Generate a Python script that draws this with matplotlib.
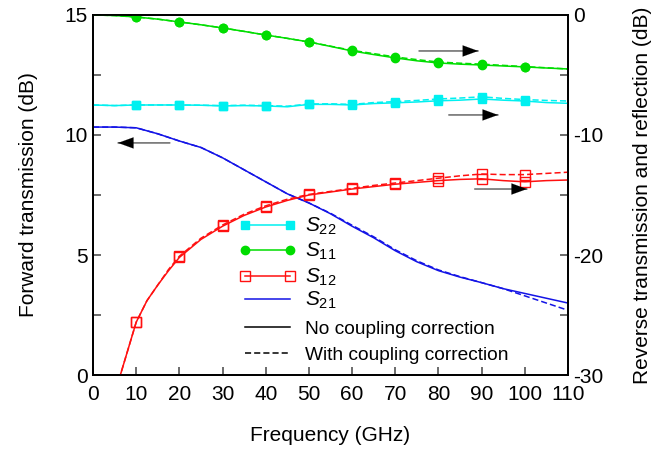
import matplotlib
matplotlib.use("Agg")
import matplotlib.pyplot as plt
import numpy as np

plt.rcParams['font.family'] = ['Liberation Sans', 'DejaVu Sans']
plt.rcParams['mathtext.fontset'] = 'custom'
plt.rcParams['mathtext.rm'] = 'Liberation Sans'
plt.rcParams['mathtext.it'] = 'Liberation Sans:italic'

# ---- measured S-parameters -------------------------------------------
# S21: forward transmission (left axis, dB)
f21 = [0, 5, 10, 15, 20, 25, 30, 35, 40, 45, 50, 55, 60, 65, 70, 75, 80,
       85, 90, 95, 100, 105, 110]
s21_nc = [10.33, 10.33, 10.3, 10.05, 9.75, 9.48, 9.05, 8.55, 8.05, 7.55,
          7.17, 6.72, 6.2, 5.72, 5.18, 4.72, 4.35, 4.08, 3.85, 3.6, 3.4,
          3.2, 3.0]
s21_wc = [10.33, 10.33, 10.3, 10.05, 9.75, 9.48, 9.05, 8.55, 8.05, 7.55,
          7.17, 6.74, 6.24, 5.76, 5.22, 4.76, 4.38, 4.1, 3.85, 3.6, 3.3,
          3.0, 2.7]

# S11, S22: reflection (right axis, dB)
fr = [0, 5, 10, 15, 20, 25, 30, 35, 40, 45, 50, 55, 60, 65, 70, 75, 80,
      85, 90, 95, 100, 105, 110]
s11_nc = [0.0, -0.05, -0.17, -0.35, -0.58, -0.82, -1.08, -1.37, -1.67,
          -1.95, -2.25, -2.62, -3.0, -3.3, -3.58, -3.82, -4.0, -4.1, -4.17,
          -4.25, -4.33, -4.42, -4.5]
s11_wc = [0.0, -0.05, -0.17, -0.35, -0.58, -0.82, -1.08, -1.37, -1.67,
          -1.95, -2.25, -2.6, -2.95, -3.22, -3.5, -3.72, -3.92, -4.02, -4.1,
          -4.2, -4.3, -4.4, -4.5]
s22_nc = [-7.5, -7.55, -7.5, -7.5, -7.5, -7.52, -7.58, -7.55, -7.58, -7.65,
          -7.45, -7.45, -7.5, -7.38, -7.32, -7.25, -7.15, -7.1, -7.0, -7.1,
          -7.17, -7.3, -7.36]
s22_wc = [-7.5, -7.55, -7.5, -7.5, -7.5, -7.52, -7.55, -7.52, -7.55, -7.6,
          -7.42, -7.4, -7.45, -7.3, -7.22, -7.12, -7.0, -6.92, -6.82, -6.95,
          -7.05, -7.12, -7.17]

# S12: reverse transmission (right axis, dB)
f12 = [6, 7, 8, 9, 10, 12.5, 15, 17.5, 20, 25, 30, 35, 40, 45, 50, 55, 60,
       65, 70, 75, 80, 85, 90, 95, 100, 105, 110]
s12_nc = [-30.4, -29.2, -28.0, -26.8, -25.6, -23.8, -22.5, -21.3, -20.2,
          -18.7, -17.6, -16.7, -16.0, -15.45, -15.0, -14.75, -14.5, -14.3,
          -14.1, -13.95, -13.8, -13.7, -13.65, -13.8, -13.9, -13.8, -13.75]
s12_wc = [-30.4, -29.2, -28.0, -26.8, -25.6, -23.8, -22.5, -21.2, -20.1,
          -18.6, -17.5, -16.6, -15.9, -15.35, -14.95, -14.7, -14.45, -14.2,
          -14.0, -13.8, -13.6, -13.4, -13.25, -13.3, -13.3, -13.2, -13.1]

x_ticks = list(range(0, 111, 10))
left_ticks = [0, 5, 10, 15]
right_ticks = [-30, -20, -10, 0]

C22, C11, C12, C21 = '#00F0F0', '#00DD00', '#FF1010', '#1414E6'
DASH = (0, (4, 2))

fig = plt.figure(figsize=(6.69, 4.53), dpi=100)
ax = fig.add_axes([0.139, 0.172, 0.71, 0.795])
ax2 = ax.twinx()

lw = 1.1

def marks_at_tens(freqs):
    return [i for i, v in enumerate(freqs) if v % 10 == 0 and 10 <= v <= 100]

# forward transmission
ax.plot(f21, s21_nc, color=C21, lw=lw)
ax.plot(f21, s21_wc, color=C21, lw=lw, ls=DASH)

# reflections and reverse transmission
for ls, s11, s22, s12 in [('-', s11_nc, s22_nc, s12_nc),
                          (DASH, s11_wc, s22_wc, s12_wc)]:
    ax2.plot(fr, s11, color=C11, lw=lw, ls=ls, marker='o', ms=6,
             markevery=marks_at_tens(fr), mec=C11, mfc=C11)
    ax2.plot(fr, s22, color=C22, lw=lw, ls=ls, marker='s', ms=5.5,
             markevery=marks_at_tens(fr), mec=C22, mfc=C22)
    ax2.plot(f12, s12, color=C12, lw=lw, ls=ls, marker='s', ms=6.5,
             markevery=marks_at_tens(f12), mec=C12, mfc='none', mew=1.0)

ax.set_xlim(0, 110)
ax.set_ylim(0, 15)
ax2.set_ylim(-30, 0)

ax.set_xticks(x_ticks)
ly = np.arange(0, 15.1, 2.5)
ax.set_yticks(ly)
ax.set_yticklabels([str(int(v)) if v in left_ticks else '' for v in ly])
ry = np.arange(-30, 0.1, 5)
ax2.set_yticks(ry)
ax2.set_yticklabels([str(int(v)) if v in right_ticks else '' for v in ry])

for a in (ax, ax2):
    a.tick_params(direction='in', length=5.5, width=1.1, color='#444444',
                  labelsize=15, pad=4)
    for sp in a.spines.values():
        sp.set_linewidth(1.3)
        sp.set_color('black')
ax.tick_params(axis='x', pad=7)

ax.set_xlabel('Frequency (GHz)', fontsize=15, labelpad=16)
ax.set_ylabel('Forward transmission (dB)', fontsize=15, labelpad=19)
ax2.set_ylabel('Reverse transmission and reflection (dB)', fontsize=15,
               labelpad=21)

# direction arrows pointing to the axis each curve uses
arrows = [
    (ax, (17.8, 9.67), (5.8, 9.67)),
    (ax2, (75.5, -3.0), (89.2, -3.0)),
    (ax2, (82.4, -8.33), (93.8, -8.33)),
    (ax2, (88.4, -14.5), (100.5, -14.5)),
]
for a, tail, tip in arrows:
    a.annotate('', xy=tip, xytext=tail,
               arrowprops=dict(arrowstyle='-', color='#666666', lw=1.1,
                               shrinkA=0, shrinkB=0))
    a.annotate('', xy=tip, xytext=(tip[0] - np.sign(tip[0] - tail[0]) * 0.5, tip[1]),
               arrowprops=dict(arrowstyle='-|>,head_length=0.55,head_width=0.2',
                               mutation_scale=20, color='black', lw=0.1,
                               shrinkA=0, shrinkB=0))

# legend, laid out row by row in axes coordinates
legend_rows = [
    (r'$\mathit{S}_{22}$', 15, dict(color=C22, marker='s', ms=5.5, mfc=C22, mec=C22)),
    (r'$\mathit{S}_{11}$', 15, dict(color=C11, marker='o', ms=6, mfc=C11, mec=C11)),
    (r'$\mathit{S}_{12}$', 15, dict(color=C12, marker='s', ms=6.5, mfc='none', mec=C12)),
    (r'$\mathit{S}_{21}$', 15, dict(color=C21)),
    ('No coupling correction', 13.8, dict(color='black')),
    ('With coupling correction', 13.8, dict(color='black', ls=DASH)),
]
row_y = [0.417, 0.347, 0.275, 0.212, 0.133, 0.061]
x0, x1, xt = 0.320, 0.415, 0.446
for (label, size, style), y in zip(legend_rows, row_y):
    ax2.plot([x0, x1], [y, y], transform=ax2.transAxes, lw=lw,
             clip_on=False, **style)
    ax2.text(xt, y - 0.019, label, transform=ax2.transAxes, fontsize=size,
             va='baseline', ha='left')

fig.savefig('out.png', dpi=100)
